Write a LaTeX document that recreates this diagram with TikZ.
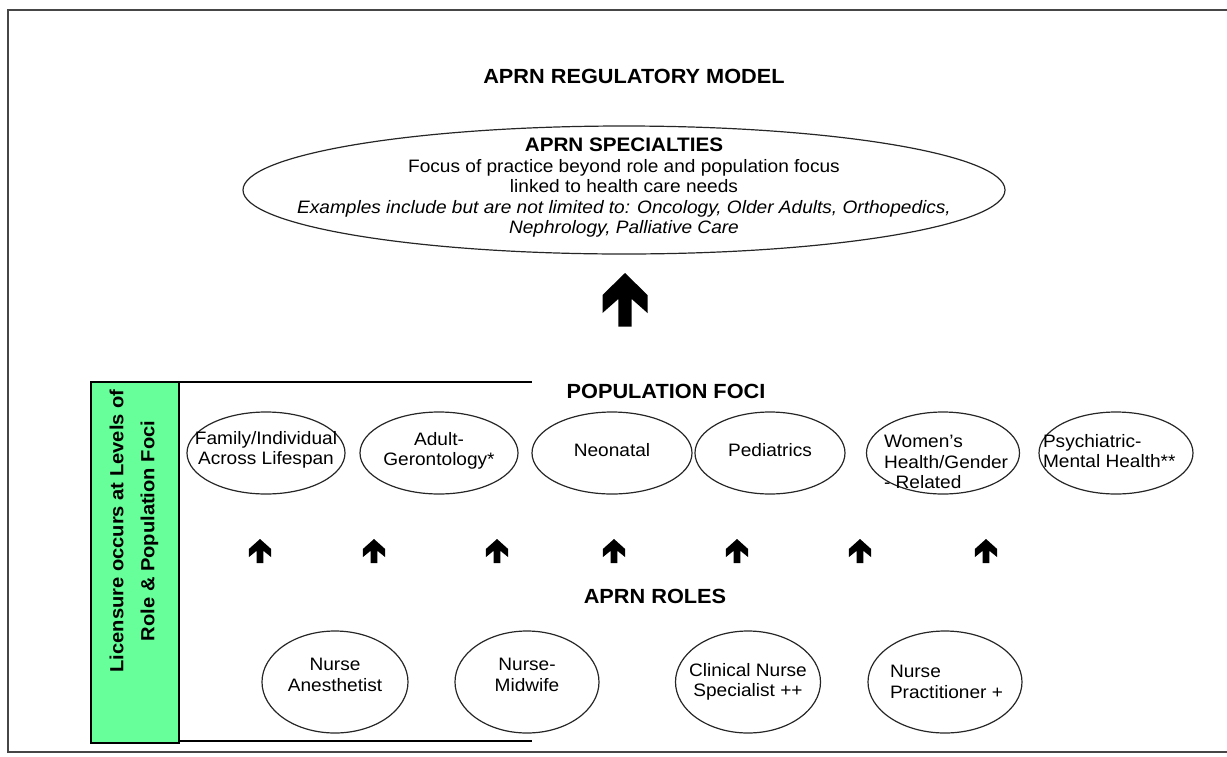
\documentclass[tikz,border=0pt]{standalone}
\usepackage{fontspec}
\setmainfont[FakeStretch=1.06]{Liberation Sans}
\usetikzlibrary{shapes.geometric}
\definecolor{boxgreen}{RGB}{102,255,153}
\definecolor{framegray}{RGB}{70,70,70}
\begin{document}
\begin{tikzpicture}[x=1pt,y=-1pt,
  every node/.style={inner sep=0pt, outer sep=0pt},
  bodytext/.style={font=\fontsize{18}{20.5}\selectfont, align=center},
  heading/.style={font=\bfseries\fontsize{20.5}{24}\selectfont},
  oval/.style={draw=black!85, line width=1.2pt, ellipse, minimum width=#1},
  popoval/.style={oval=#1, minimum height=82pt},
  roleoval/.style={oval=#1, minimum height=102pt},
  frameline/.style={draw=framegray, line width=2.6pt},
  upshape/.pic={
    \fill[black] (0,0) -- (22.5,22) -- (22.5,40) -- (6.7,26) -- (6.7,53.5)
      -- (-6.7,53.5) -- (-6.7,26) -- (-22.5,40) -- (-22.5,22) -- cycle;
  },
  smallup/.style={xscale=0.49, yscale=0.45}
]
\useasboundingbox (0,0) rectangle (1227,756);

% outer frame
\coordinate (ftr) at (1227,10);
\coordinate (ftl) at (8,10);
\coordinate (fbl) at (8,752);
\coordinate (fbr) at (1227,752);
\draw[frameline] (ftr) -- (ftl) -- (fbl) -- (fbr);

% title
\node[heading] (title) at (634,76) {APRN REGULATORY MODEL};

% specialties ellipse
\node[oval=762pt, minimum height=128pt] (spec) at (624,190) {};
\node[bodytext] (spectext) at (624,188) {\textbf{\fontsize{19.5}{20.5}\selectfont APRN SPECIALTIES}\\
Focus of practice beyond role and population focus\\
linked to health care needs\\
\textit{Examples include but are not limited to: Oncology, Older Adults, Orthopedics,}\\
\textit{Nephrology, Palliative Care}};

% big arrow
\pic at (625,273) {upshape};

% green licensure box
\node[draw=black, line width=1.3pt, fill=boxgreen, minimum width=88pt, minimum height=361pt] (lic) at (135,562.5) {};
\node[font=\bfseries\fontsize{19}{31}\selectfont, align=center, rotate=90] (lictext) at (134,531) {Licensure occurs at Levels of\\Role \& Population Foci};
\coordinate (ltop) at (532,382);
\coordinate (lbot) at (532,741);
\draw[line width=1.3pt] (lic.north east) -- (ltop);
\draw[line width=1.3pt] (lic.south east |- lbot) -- (lbot);

% population foci
\node[heading] (pophead) at (666,391) {POPULATION FOCI};
\node[popoval=158pt] (fam) at (266,453) {};
\node[popoval=158pt] (adult) at (439,453) {};
\node[popoval=160pt] (neo) at (612,453) {};
\node[popoval=150pt] (ped) at (770,453) {};
\node[popoval=153pt] (wom) at (943,453) {};
\node[popoval=154pt] (psy) at (1116,453) {};
\node[bodytext] (famt) at (266,450) {Family/Individual\\Across Lifespan};
\node[bodytext] (adultt) at (439,451) {Adult-\\Gerontology*};
\node[bodytext] (neot) at (612,450) {Neonatal};
\node[bodytext] (pedt) at (770,450) {Pediatrics};
\node[bodytext, align=left, anchor=west] (womt) at (884,462) {Women's\\Health/Gender\\- Related};
\node[bodytext, align=left, anchor=west] (psyt) at (1043,451) {Psychiatric-\\Mental Health**};

% small arrows
\foreach \ax in {260,374,497,614,737,860,986}
  \pic[smallup] at (\ax,539) {upshape};

% roles
\node[heading] (rolehead) at (655,596) {APRN ROLES};
\node[roleoval=146pt] (anes) at (335,682) {};
\node[roleoval=144pt] (mid) at (527,682) {};
\node[roleoval=145pt] (cns) at (748,682) {};
\node[roleoval=154pt] (np) at (945,682) {};
\node[bodytext] (anest) at (335,675) {Nurse\\Anesthetist};
\node[bodytext] (midt) at (527,675) {Nurse-\\Midwife};
\node[bodytext] (cnst) at (748,682) {Clinical Nurse\\Specialist ++};
\node[bodytext, align=left, anchor=west] (npt) at (890,682) {Nurse\\Practitioner +};
\end{tikzpicture}
\end{document}
